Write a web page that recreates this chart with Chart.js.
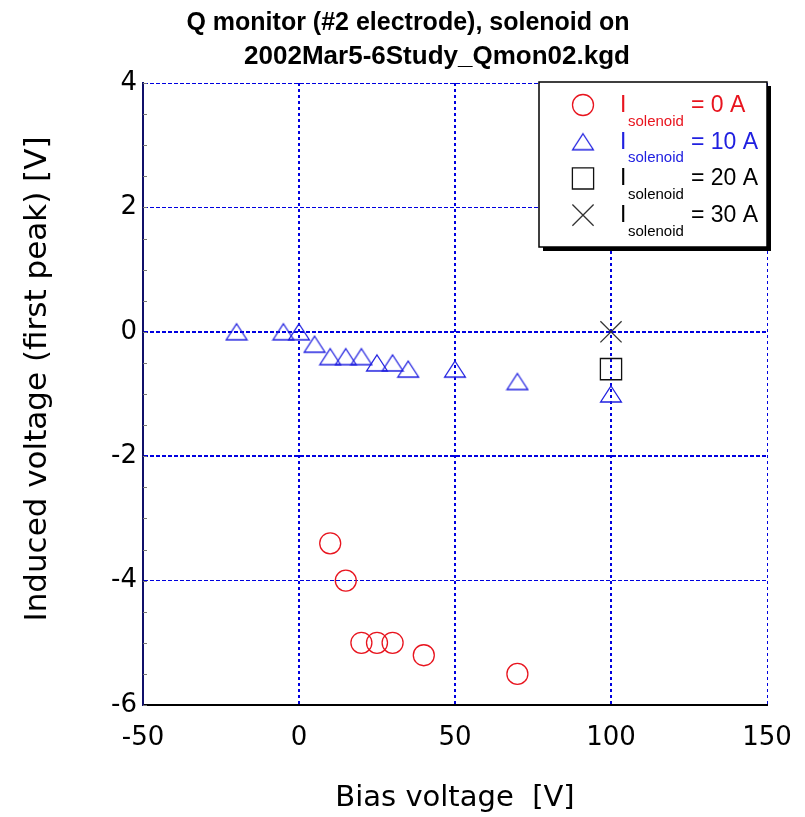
<!DOCTYPE html>
<html>
<head>
<meta charset="utf-8">
<script src="https://cdn.jsdelivr.net/npm/chart.js@4/dist/chart.umd.min.js"></script>
<style>
  html, body { margin: 0; padding: 0; background: #fff; }
</style>
</head>
<body>
<canvas id="qmonChart" width="805" height="817"></canvas>
<script>
// Data
const bias0A = [10, 15, 20, 25, 30, 40, 70];
const induced0A = [-3.4, -4.0, -5.0, -5.0, -5.0, -5.2, -5.5];

const bias10A = [-20, -5, 0, 5, 10, 15, 20, 25, 30, 35, 50, 70, 100];
const induced10A = [0, 0, 0, -0.2, -0.4, -0.4, -0.4, -0.5, -0.5, -0.6, -0.6, -0.8, -1.0];

const bias20A = [100];
const induced20A = [-0.6];

const bias30A = [100];
const induced30A = [0];

const legendValues = ['= 0 A', '= 10 A', '= 20 A', '= 30 A'];
const titleLines = ['Q monitor (#2 electrode), solenoid on', '2002Mar5-6Study_Qmon02.kgd'];

const RED = '#e8141e';
const BLUE = '#2020e0';
const GRID = '#0000e0';

function toPoints(xs, ys) {
    return xs.map((x, i) => ({ x: x, y: ys[i] }));
}

// open triangle centred on its box, like the original plot
function makeTriangle(color) {
    const c = document.createElement('canvas');
    c.width = 24;
    c.height = 20;
    const g = c.getContext('2d');
    g.strokeStyle = color;
    g.lineWidth = 1.3;
    g.beginPath();
    g.moveTo(12, 2);
    g.lineTo(22.4, 18);
    g.lineTo(1.6, 18);
    g.closePath();
    g.stroke();
    return c;
}
const triangleImg = makeTriangle(BLUE);

const seriesStyles = [
    { color: RED, pointStyle: 'circle', radius: 10.5 },
    { color: BLUE, pointStyle: triangleImg, radius: 12 },
    { color: '#111', pointStyle: 'rect', radius: 15 },
    { color: '#333', pointStyle: 'crossRot', radius: 15 }
];

const allData = [
    toPoints(bias0A, induced0A),
    toPoints(bias10A, induced10A),
    toPoints(bias20A, induced20A),
    toPoints(bias30A, induced30A)
];

const datasets = allData.map((pts, i) => ({
    label: 'I solenoid ' + legendValues[i],
    data: pts,
    pointStyle: seriesStyles[i].pointStyle,
    pointRadius: seriesStyles[i].radius,
    pointHoverRadius: seriesStyles[i].radius,
    borderColor: seriesStyles[i].color,
    backgroundColor: 'rgba(0,0,0,0)',
    pointBorderWidth: 1.3,
    showLine: false
}));

// titles, y label, minor ticks and the boxed legend
const extras = {
    id: 'extras',
    beforeDatasetsDraw(chart) {
        const ctx = chart.ctx;
        const ys = chart.scales.y;
        const area = chart.chartArea;
        ctx.save();
        ctx.strokeStyle = '#777';
        ctx.lineWidth = 1;
        for (let v = -6; v <= 4; v += 0.5) {
            const py = Math.round(ys.getPixelForValue(v)) + 0.5;
            ctx.beginPath();
            ctx.moveTo(area.left, py);
            ctx.lineTo(area.left + 4, py);
            ctx.stroke();
        }
        ctx.restore();
    },
    afterDraw(chart) {
        const ctx = chart.ctx;
        const area = chart.chartArea;
        ctx.save();

        // main title, two lines
        ctx.fillStyle = '#000';
        ctx.font = 'bold 25px "Liberation Sans", sans-serif';
        ctx.textAlign = 'center';
        ctx.textBaseline = 'alphabetic';
        ctx.fillText(titleLines[0], 408, 30);
        ctx.font = 'bold 26px "Liberation Sans", sans-serif';
        ctx.fillText(titleLines[1], 437, 64);

        // y axis title
        ctx.save();
        ctx.translate(38, area.top + 296);
        ctx.rotate(-Math.PI / 2);
        ctx.font = '31px "DejaVu Sans", sans-serif';
        ctx.textBaseline = 'middle';
        ctx.fillText('Induced voltage (first peak) [V]', 0, 0);
        ctx.restore();

        // legend box
        const w = 228, h = 165;
        const x0 = area.right - w;
        const y0 = area.top - 1;
        ctx.fillStyle = '#000';
        ctx.fillRect(x0 + 4, y0 + 4, w, h);
        ctx.fillStyle = '#fff';
        ctx.fillRect(x0, y0, w, h);
        ctx.strokeStyle = '#000';
        ctx.lineWidth = 1.5;
        ctx.strokeRect(x0, y0, w, h);

        ctx.textAlign = 'left';
        ctx.textBaseline = 'alphabetic';
        seriesStyles.forEach((s, i) => {
            const cy = y0 + 23 + i * 36.7;
            const textColor = i === 0 ? RED : (i === 1 ? BLUE : '#000');
            ctx.strokeStyle = s.color;
            ctx.fillStyle = 'rgba(0,0,0,0)';
            ctx.lineWidth = 1.3;
            Chart.helpers.drawPoint(ctx, { pointStyle: s.pointStyle, radius: s.radius, rotation: 0, borderWidth: 1.3 }, x0 + 44, cy);
            ctx.fillStyle = textColor;
            ctx.font = '23px "Liberation Sans", sans-serif';
            ctx.fillText('I', x0 + 81, cy + 7);
            ctx.font = '15px "Liberation Sans", sans-serif';
            ctx.fillText('solenoid', x0 + 89, cy + 20.5);
            ctx.font = '23px "Liberation Sans", sans-serif';
            ctx.fillText(legendValues[i], x0 + 152, cy + 7);
        });
        ctx.restore();
    }
};

const ctx = document.getElementById('qmonChart').getContext('2d');
const qmonChart = new Chart(ctx, {
    type: 'scatter',
    data: { datasets: datasets },
    plugins: [extras],
    options: {
        responsive: false,
        animation: false,
        layout: { padding: { top: 83, right: 38, left: 0, bottom: 0 } },
        plugins: {
            legend: { display: false },
            title: { display: false },
            tooltip: { enabled: false }
        },
        scales: {
            x: {
                type: 'linear',
                min: -50,
                max: 150,
                afterFit: s => { s.height = 112; },
                ticks: {
                    stepSize: 50,
                    color: '#000',
                    padding: 10,
                    font: { family: '"DejaVu Sans", sans-serif', size: 26, lineHeight: 1.75 }
                },
                grid: {
                    color: GRID,
                    drawTicks: false,
                    lineWidth: c => (c.tick && [0, 50, 100].includes(c.tick.value)) ? 2 : 1
                },
                border: { display: true, color: '#000', width: 2, dash: [3, 3] },
                title: {
                    display: true,
                    text: 'Bias voltage  [V]',
                    color: '#000',
                    font: { family: '"DejaVu Sans", sans-serif', size: 29 },
                    padding: { top: 0, bottom: 1 }
                }
            },
            y: {
                type: 'linear',
                min: -6,
                max: 4,
                afterFit: s => { s.width = 143; },
                ticks: {
                    stepSize: 2,
                    color: '#000',
                    padding: 6,
                    font: { family: '"DejaVu Sans", sans-serif', size: 26 }
                },
                grid: {
                    color: GRID,
                    drawTicks: false,
                    lineWidth: c => (c.tick && (c.tick.value === 0 || c.tick.value === -2)) ? 2 : 1
                },
                border: { display: true, color: '#10106a', width: 2, dash: [4, 2] }
            }
        }
    }
});
</script>
</body>
</html>
